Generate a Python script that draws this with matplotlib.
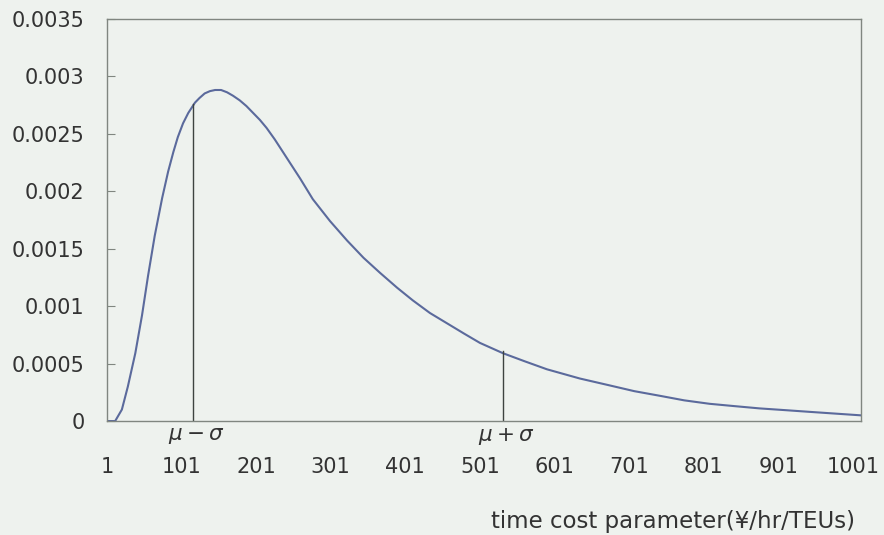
import matplotlib
matplotlib.use("Agg")
import matplotlib.pyplot as plt

plt.rcParams["font.family"] = ["DejaVu Sans", "Noto Sans CJK JP"]

# density curve
x_vals = [1, 12, 21, 29, 39, 48, 56, 65, 75, 83, 90, 96, 103, 110, 119, 125, 132,
          139, 146, 154, 162, 170, 179, 188, 197, 206, 215, 226, 237, 248, 260, 277,
          300, 323, 345, 367, 390, 411, 434, 457, 480, 501, 532, 561, 591, 635, 675,
          708, 742, 775, 809, 842, 876, 910, 943, 977, 1011]
density = [0, 0, 0.0001, 0.0003, 0.00059, 0.00092, 0.00126, 0.00161, 0.00194,
           0.00217, 0.00234, 0.00247, 0.00259, 0.00268, 0.00277, 0.00281, 0.00285,
           0.00287, 0.00288, 0.00288, 0.00286, 0.00283, 0.00279, 0.00274, 0.00268,
           0.00262, 0.00255, 0.00245, 0.00234, 0.00223, 0.00211, 0.00193,
           0.00174, 0.00157, 0.00142, 0.00129, 0.00116, 0.00105, 0.00094, 0.00085,
           0.00076, 0.00068, 0.00059, 0.00052, 0.00045, 0.00037, 0.00031,
           0.00026, 0.00022, 0.00018, 0.00015, 0.00013, 0.00011, 0.000095, 0.00008,
           0.000065, 0.00005]

# mu - sigma and mu + sigma markers
mark_x = [116, 532]
mark_y = [0.00276, 0.00061]
mark_labels = [r"$\mu-\sigma$", r"$\mu+\sigma$"]

x_ticks = [1, 101, 201, 301, 401, 501, 601, 701, 801, 901, 1001]
y_ticks = [0, 0.0005, 0.001, 0.0015, 0.002, 0.0025, 0.003, 0.0035]
y_ticklabels = ["0", "0.0005", "0.001", "0.0015", "0.002", "0.0025", "0.003", "0.0035"]

bg = "#eef2ee"
fig = plt.figure(figsize=(8.84, 5.35), dpi=100, facecolor=bg)
ax = fig.add_axes([0.121, 0.213, 0.853, 0.752], facecolor=bg)

ax.plot(x_vals, density, color="#5b6a9c", lw=1.5)
for mx, my, lab in zip(mark_x, mark_y, mark_labels):
    ax.plot([mx, mx], [0, my], color="#3e4440", lw=1.0)
    ax.text(mx + 5, -0.00004, lab, ha="center", va="top", fontsize=15.5, color="#333333")

ax.set_xlim(1, 1012)
ax.set_ylim(0, 0.0035)
ax.set_xticks(x_ticks)
ax.set_xticklabels([str(t) for t in x_ticks])
ax.set_yticks(y_ticks)
ax.set_yticklabels(y_ticklabels)
ax.tick_params(axis="x", length=0, pad=26, labelsize=15, colors="#333333")
ax.tick_params(axis="y", direction="in", length=6, width=0.8, color="#808680",
               pad=16, labelsize=15, labelcolor="#333333")
for sp in ax.spines.values():
    sp.set_color("#808680")
    sp.set_linewidth(1.0)

fig.text(0.967, 0.025, "time cost parameter(¥/hr/TEUs)", ha="right", va="center",
         fontsize=16.5, color="#333333")

fig.savefig("out.png", dpi=100, facecolor=bg)
